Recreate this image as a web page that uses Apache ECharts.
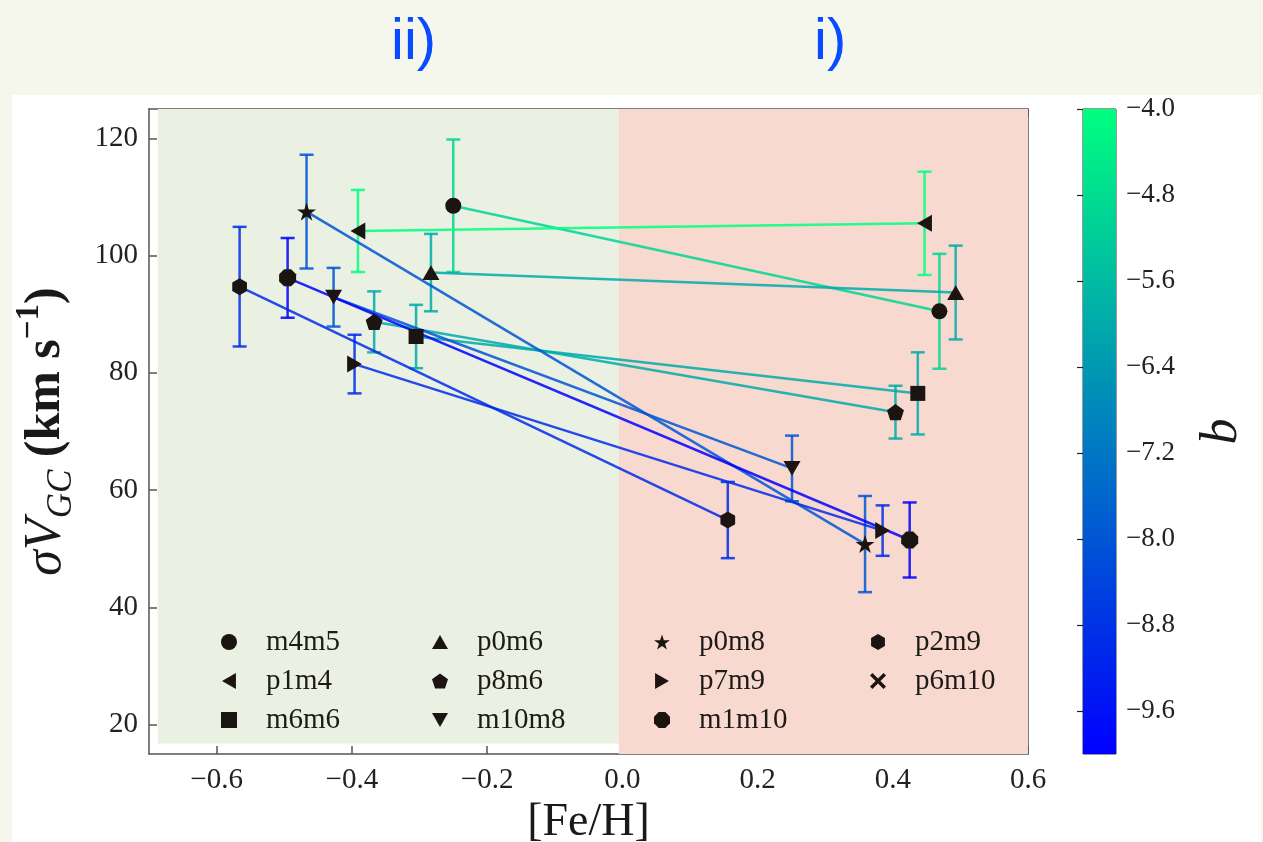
<!DOCTYPE html>
<html>
<head>
<meta charset="utf-8">
<script src="https://cdn.jsdelivr.net/npm/echarts@6/dist/echarts.min.js"></script>
<style>
html,body{margin:0;padding:0;background:#f5f7ec;}
#chart{width:1263px;height:842px;}
</style>
</head>
<body>
<div id="chart"></div>
<script>
// ---- data ----
const fields   = ['m4m5','p1m4','m6m6','p0m6','p8m6','m10m8','p0m8','p7m9','m1m10','p2m9','p6m10'];
const bValues  = [-5, -4, -6, -6, -6, -8, -8, -9, -10, -9, -10];
const fehII    = [-0.250, -0.391, -0.305, -0.283, -0.367, -0.427, -0.467, -0.396, -0.495, -0.566, null];
const sigII    = [108.5, 104.2, 86.2, 97.1, 88.7, 92.9, 107.5, 81.5, 96.2, 94.7, null];
const errII    = [11.3, 7.0, 5.4, 6.6, 5.2, 5.0, 9.7, 5.0, 6.8, 10.2, null];
const fehI     = [0.469, 0.447, 0.437, 0.493, 0.404, 0.251, 0.359, 0.385, 0.425, 0.156, null];
const sigI     = [90.5, 105.5, 76.5, 93.7, 73.3, 63.7, 50.8, 53.1, 51.5, 54.9, null];
const errI     = [9.8, 8.8, 7.0, 8.0, 4.5, 5.6, 8.2, 4.3, 6.4, 6.5, null];
const xTicks   = [-0.6, -0.4, -0.2, 0.0, 0.2, 0.4, 0.6];
const yTicks   = [20, 40, 60, 80, 100, 120];
const cbTicks  = [-9.6, -8.8, -8.0, -7.2, -6.4, -5.6, -4.8, -4.0];
const bMin = -10, bMax = -4;
const legendCols = [['m4m5','p1m4','m6m6'],['p0m6','p8m6','m10m8'],['p0m8','p7m9','m1m10'],['p2m9','p6m10']];

// ---- styling ----
const SERIF = '"Liberation Serif","DejaVu Serif",serif';
const symbols = {
  m4m5: 'circle',
  p1m4: 'path://M0,50L87,0L87,100Z',
  m6m6: 'rect',
  p0m6: 'path://M50,0L100,87L0,87Z',
  p8m6: 'path://M50,0L97.55,34.55L79.39,90.45L20.61,90.45L2.45,34.55Z',
  m10m8: 'path://M0,0L100,0L50,87Z',
  p0m8: 'path://M50,0L61.17,34.63L97.55,34.55L68.07,55.87L79.39,90.45L50,69L20.61,90.45L31.93,55.87L2.45,34.55L38.83,34.63Z',
  p7m9: 'path://M0,0L87,50L0,100Z',
  m1m10: 'path://M96.2,30.9L96.2,69.1L69.1,96.2L30.9,96.2L3.8,69.1L3.8,30.9L30.9,3.8L69.1,3.8Z',
  p2m9: 'path://M50,0L93.3,25L93.3,75L50,100L6.7,75L6.7,25Z',
  p6m10: 'path://M0,15L15,0L50,35L85,0L100,15L65,50L100,85L85,100L50,65L15,100L0,85L35,50Z'
};
const sizes = {p0m8: 19, p6m10: 13, m6m6: 15, m4m5: 16};

function winter(b, a) {
  const t = Math.max(0, Math.min(1, (b - bMin) / (bMax - bMin)));
  return 'rgba(0,' + Math.round(255 * t) + ',' + Math.round(255 * (1 - 0.5 * t)) + ',' + a + ')';
}
function fmtNum(v, d) {
  const s = Math.abs(v).toFixed(d);
  return (v < -1e-9 ? '\u2212' : '') + s;
}

const series = [];
// background regions
series.push({
  type: 'line', name: '_bg', data: [], xAxisIndex: 0, yAxisIndex: 0, silent: true, z: 1,
  markArea: {
    silent: true,
    data: [
      [{coord: [-0.687, 125], itemStyle: {color: '#eaf0e2'}}, {coord: [-0.005, 16.8]}],
      [{coord: [-0.005, 125], itemStyle: {color: '#f7d9cf'}}, {coord: [0.6, 15]}]
    ]
  }
});

fields.forEach((f, i) => {
  if (fehII[i] == null) return;
  const c = winter(bValues[i], 0.85);
  series.push({
    type: 'line', name: '_line_' + f, silent: true, z: 3,
    data: [[fehII[i], sigII[i]], [fehI[i], sigI[i]]],
    showSymbol: false, symbol: 'none',
    lineStyle: {color: c, width: 2.5}
  });
  series.push({
    type: 'custom', name: '_err_' + f, silent: true, z: 3,
    data: [[fehII[i], sigII[i], errII[i]], [fehI[i], sigI[i], errI[i]]],
    encode: {x: 0, y: 1},
    renderItem: function (params, api) {
      const x = api.value(0), y = api.value(1), e = api.value(2);
      const top = api.coord([x, y + e]);
      const bot = api.coord([x, y - e]);
      const hw = 7;
      const st = {stroke: c, lineWidth: 2.5, fill: null};
      return {
        type: 'group',
        children: [
          {type: 'line', shape: {x1: top[0], y1: top[1], x2: bot[0], y2: bot[1]}, style: st},
          {type: 'line', shape: {x1: top[0] - hw, y1: top[1], x2: top[0] + hw, y2: top[1]}, style: st},
          {type: 'line', shape: {x1: bot[0] - hw, y1: bot[1], x2: bot[0] + hw, y2: bot[1]}, style: st}
        ]
      };
    }
  });
});

fields.forEach((f, i) => {
  const data = fehII[i] == null ? [] : [[fehII[i], sigII[i]], [fehI[i], sigI[i]]];
  series.push({
    type: 'scatter', name: f, z: 5,
    symbol: symbols[f], symbolSize: sizes[f] || 17, symbolKeepAspect: true,
    itemStyle: {color: '#1c1410', opacity: 1},
    data: data
  });
});

// colorbar
series.push({
  type: 'custom', name: '_cbar', xAxisIndex: 2, yAxisIndex: 2, silent: true,
  data: [[0]],
  renderItem: function (params, api) {
    const p1 = api.coord([0, bMax]);
    const p2 = api.coord([1, bMin]);
    return {
      type: 'rect',
      shape: {x: p1[0], y: p1[1], width: p2[0] - p1[0], height: p2[1] - p1[1]},
      style: {
        fill: new echarts.graphic.LinearGradient(0, 0, 0, 1, [
          {offset: 0, color: '#00ff80'},
          {offset: 1, color: '#0000ff'}
        ])
      }
    };
  }
});

const legends = legendCols.map((col, k) => ({
  data: col,
  orient: 'vertical',
  left: [216, 427, 649, 865][k],
  top: 621,
  itemWidth: 16, itemHeight: 16,
  itemGap: 7,
  selectedMode: false,
  textStyle: {fontFamily: SERIF, fontSize: 29, color: '#1e1a18', lineHeight: 32, padding: [0, 0, 0, 24]}
}));

const axisLineStyle = {color: '#555', width: 1.5};
const titleStyle = {fontFamily: '"Liberation Sans","Arial",sans-serif', fontSize: 58, fontWeight: 'normal', color: '#0a4bff'};
const option = {
  animation: false,
  backgroundColor: 'transparent',
  graphic: [{type: 'rect', shape: {x: 12, y: 95, width: 1249, height: 747}, style: {fill: '#ffffff'}, z: -10, silent: true}],
  title: [
    {text: 'ii)', left: 391, top: 14, padding: 0, textStyle: titleStyle},
    {text: 'i)', left: 814, top: 14, padding: 0, textStyle: titleStyle}
  ],
  legend: legends,
  grid: [
    {left: 149, right: 235, top: 109, bottom: 88, containLabel: false, outerBoundsMode: 'none'},
    {left: 149, right: 235, top: 109, bottom: 88, containLabel: false, outerBoundsMode: 'none'},
    {left: 1083, width: 33, top: 109, bottom: 88, show: true, borderColor: '#333', borderWidth: 1, outerBoundsMode: 'none'}
  ],
  xAxis: [
    {type: 'value', gridIndex: 0, min: -0.7, max: 0.6, position: 'bottom',
     name: '[Fe/H]', nameLocation: 'middle', nameGap: 44,
     nameTextStyle: {fontFamily: SERIF, fontSize: 46, color: '#1a1a1a'},
     axisLine: {show: true, onZero: false, lineStyle: axisLineStyle},
     axisTick: {show: true, inside: true, length: 8, customValues: xTicks, lineStyle: axisLineStyle},
     axisLabel: {customValues: xTicks, margin: 12, fontFamily: SERIF, fontSize: 29, color: '#222', formatter: v => fmtNum(v, 1)},
     splitLine: {show: false}},
    {type: 'value', gridIndex: 1, min: -0.7, max: 0.6, position: 'top',
     axisLine: {show: true, onZero: false, lineStyle: axisLineStyle},
     axisTick: {show: true, inside: true, length: 8, customValues: xTicks, lineStyle: axisLineStyle},
     axisLabel: {show: false}, splitLine: {show: false}},
    {type: 'value', gridIndex: 2, min: 0, max: 1, show: false}
  ],
  yAxis: [
    {type: 'value', gridIndex: 0, min: 15, max: 125, position: 'left',
     name: '{i|\u03c3V}{sub|GC}{b| (km s}{sup|\u22121}{b|)}',
     nameLocation: 'middle', nameGap: 70, nameRotate: 90,
     nameTextStyle: {
       fontFamily: SERIF, fontSize: 50, color: '#1a1a1a',
       rich: {
         i: {fontFamily: SERIF, fontSize: 52, fontStyle: 'italic', color: '#1a1a1a', lineHeight: 66},
         sub: {fontFamily: SERIF, fontSize: 35, fontStyle: 'italic', color: '#1a1a1a', verticalAlign: 'bottom', lineHeight: 32},
         b: {fontFamily: SERIF, fontSize: 50, fontWeight: 'bold', color: '#1a1a1a', lineHeight: 66},
         sup: {fontFamily: SERIF, fontSize: 33, fontWeight: 'bold', color: '#1a1a1a', verticalAlign: 'top', lineHeight: 32}
       }
     },
     axisLine: {show: true, onZero: false, lineStyle: axisLineStyle},
     axisTick: {show: true, inside: true, length: 8, customValues: yTicks, lineStyle: axisLineStyle},
     axisLabel: {customValues: yTicks, margin: 11, fontFamily: SERIF, fontSize: 29, color: '#222'},
     splitLine: {show: false}},
    {type: 'value', gridIndex: 1, min: 15, max: 125, position: 'right',
     axisLine: {show: true, onZero: false, lineStyle: axisLineStyle},
     axisTick: {show: true, inside: true, length: 8, customValues: yTicks, lineStyle: axisLineStyle},
     axisLabel: {show: false}, splitLine: {show: false}},
    {type: 'value', gridIndex: 2, min: bMin, max: bMax, position: 'right',
     name: 'b', nameLocation: 'middle', nameGap: 80, nameRotate: 90,
     nameTextStyle: {fontFamily: SERIF, fontSize: 52, fontStyle: 'italic', color: '#1a1a1a'},
     axisLine: {show: false},
     axisTick: {show: true, inside: true, length: 6, customValues: cbTicks, lineStyle: {color: '#222', width: 1.2}},
     axisLabel: {customValues: cbTicks, margin: 10, fontFamily: SERIF, fontSize: 27, color: '#222', formatter: v => fmtNum(v, 1)},
     splitLine: {show: false}}
  ],
  series: series
};

const chart = echarts.init(document.getElementById('chart'), null, {renderer: 'canvas'});
chart.setOption(option);
</script>
</body>
</html>
